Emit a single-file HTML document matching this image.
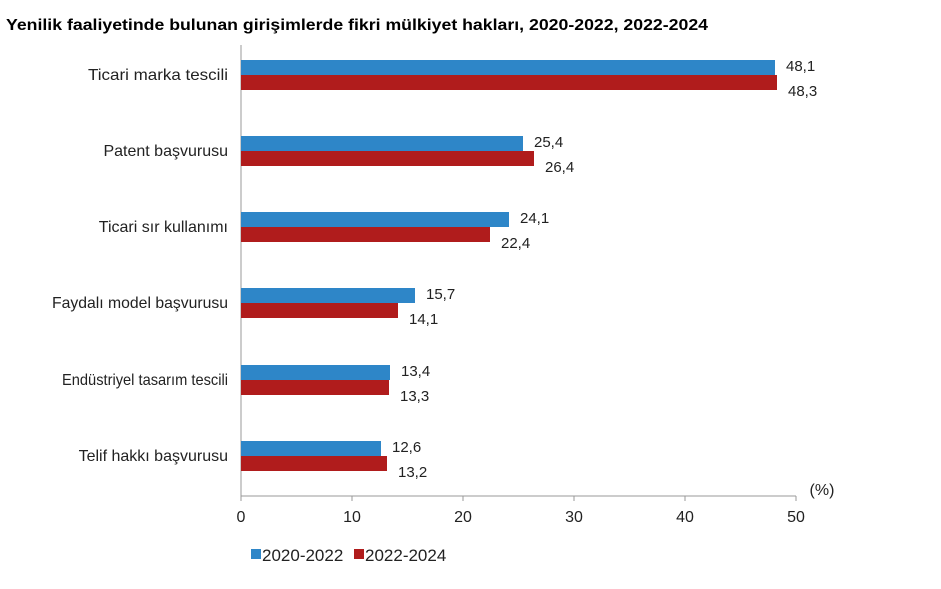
<!DOCTYPE html><html><head><style>
body{margin:0;background:#fff;font-family:"Liberation Sans",sans-serif;}
</style></head><body>
<svg width="941" height="584" xmlns="http://www.w3.org/2000/svg" font-family="Liberation Sans, sans-serif">
<text x="6" y="30" font-size="16" font-weight="bold" fill="#000" textLength="702" lengthAdjust="spacingAndGlyphs">Yenilik faaliyetinde bulunan girişimlerde fikri mülkiyet hakları, 2020-2022, 2022-2024</text>
<g stroke="#999" stroke-width="1">
<line x1="241" y1="45" x2="241" y2="496"/>
<line x1="241" y1="496" x2="796" y2="496"/>
<line x1="241" y1="496" x2="241" y2="501"/><line x1="352" y1="496" x2="352" y2="501"/><line x1="463" y1="496" x2="463" y2="501"/><line x1="574" y1="496" x2="574" y2="501"/><line x1="685" y1="496" x2="685" y2="501"/><line x1="796" y1="496" x2="796" y2="501"/>
</g>
<g font-size="16" fill="#222" text-anchor="middle">
<text x="241" y="522">0</text><text x="352" y="522">10</text><text x="463" y="522">20</text><text x="574" y="522">30</text><text x="685" y="522">40</text><text x="796" y="522">50</text>
<text x="822" y="495">(%)</text>
</g>
<g font-size="16" fill="#222" text-anchor="end">
<text x="228" y="80" textLength="140" lengthAdjust="spacingAndGlyphs">Ticari marka tescili</text>
<text x="228" y="156">Patent başvurusu</text>
<text x="228" y="232">Ticari sır kullanımı</text>
<text x="228" y="308" textLength="176" lengthAdjust="spacingAndGlyphs">Faydalı model başvurusu</text>
<text x="228" y="385" textLength="166" lengthAdjust="spacingAndGlyphs">Endüstriyel tasarım tescili</text>
<text x="228" y="461">Telif hakkı başvurusu</text>
</g>
<g>
<rect x="241" y="60" width="534" height="15" fill="#2e86c8"/><rect x="241" y="75" width="536" height="15" fill="#b01c1c"/>
<rect x="241" y="136" width="282" height="15" fill="#2e86c8"/><rect x="241" y="151" width="293" height="15" fill="#b01c1c"/>
<rect x="241" y="212" width="268" height="15" fill="#2e86c8"/><rect x="241" y="227" width="249" height="15" fill="#b01c1c"/>
<rect x="241" y="288" width="174" height="15" fill="#2e86c8"/><rect x="241" y="303" width="157" height="15" fill="#b01c1c"/>
<rect x="241" y="365" width="149" height="15" fill="#2e86c8"/><rect x="241" y="380" width="148" height="15" fill="#b01c1c"/>
<rect x="241" y="441" width="140" height="15" fill="#2e86c8"/><rect x="241" y="456" width="146" height="15" fill="#b01c1c"/>
</g>
<g font-size="15" fill="#222">
<text x="786" y="71">48,1</text><text x="788" y="96">48,3</text>
<text x="534" y="147">25,4</text><text x="545" y="172">26,4</text>
<text x="520" y="223">24,1</text><text x="501" y="248">22,4</text>
<text x="426" y="299">15,7</text><text x="409" y="324">14,1</text>
<text x="401" y="376">13,4</text><text x="400" y="401">13,3</text>
<text x="392" y="452">12,6</text><text x="398" y="477">13,2</text>
</g>
<rect x="251" y="549" width="10" height="10" fill="#2e86c8"/>
<text x="262" y="561" font-size="17" fill="#222">2020-2022</text>
<rect x="354" y="549" width="10" height="10" fill="#b01c1c"/>
<text x="365" y="561" font-size="17" fill="#222">2022-2024</text>
</svg>
</body></html>
